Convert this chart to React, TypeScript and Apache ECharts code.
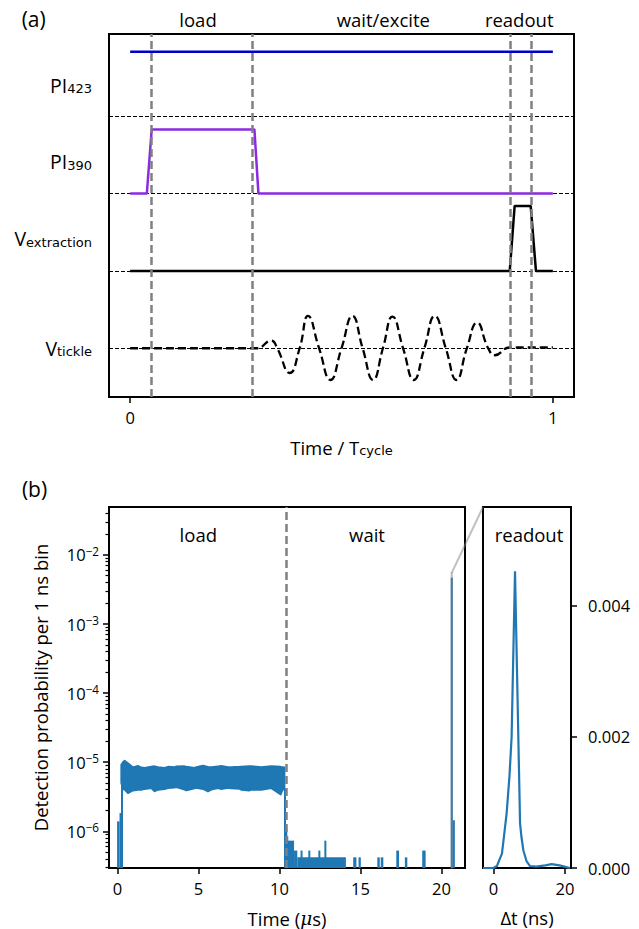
import React, { useEffect, useRef } from "react";
import * as echarts from "echarts";

const FONT = "'Open Sans', 'Noto Sans', sans-serif";
const SUBFONT = "'DejaVu Sans', sans-serif";
const BLUE = "#1f77b4";

// ---------- Panel (a): timing sequence ----------
const pi423T = [0, 1];
const pi423V = [3.833, 3.833];
const pi390T = [0, 0.0395, 0.051, 0.294, 0.3035, 1];
const pi390V = [2, 2, 2.829, 2.829, 2, 2];
const vextT = [0, 0.898, 0.9096, 0.9475, 0.96, 1];
const vextV = [1, 1, 1.84, 1.84, 1, 1];
const tickleT = [0, 0.2987, 0.334, 0.348, 0.3775, 0.401, 0.4208, 0.447, 0.4738, 0.5, 0.5259, 0.55, 0.5747, 0.598, 0.6206, 0.6457, 0.671, 0.696, 0.7207, 0.7467, 0.772, 0.7965, 0.8208, 0.847, 0.8627, 0.898, 1];
const tickleV = [0, 0, 0.1, 0, -0.32, 0, 0.418, 0, -0.41, 0, 0.418, 0, -0.41, 0, 0.41, 0, -0.41, 0, 0.418, 0, -0.41, 0, 0.33, 0, -0.09, 0.01, 0.01];
const separatorLevels = [0, 1, 2, 3];
const phaseMarks = [0.0455, 0.2947, 0.9046, 0.9534];
const traceLabelLevels = [0, 1.417, 2.41, 3.4];
const traceLabels = ["{m|V}{sub|tickle}", "{m|V}{sub|extraction}", "{m|PI}{sub|390}", "{m|PI}{sub|423}"];
const xTicksA = [0, 1];

// ---------- Panel (b): detection probability (log) ----------
const bandT = [0.237, 0.34, 0.443, 0.648, 0.957, 1.265, 1.471, 1.677, 2.088, 2.294, 2.5, 2.912, 3.117, 3.529, 3.632, 4.146, 4.249, 4.764, 4.866, 5.278, 5.586, 5.792, 6.204, 6.409, 6.821, 7.027, 7.541, 7.644, 8.159, 8.261, 8.878, 9.496, 10.072, 10.216, 10.31];
const bandUpper = [9.2e-6, 1.0e-5, 1.056e-5, 9.66e-6, 8.46e-6, 8.84e-6, 8.4e-6, 8.28e-6, 8.65e-6, 8.75e-6, 8.5e-6, 8.28e-6, 8.6e-6, 8.46e-6, 8.7e-6, 8.75e-6, 8.6e-6, 8.28e-6, 8.5e-6, 8.94e-6, 8.6e-6, 8.46e-6, 8.7e-6, 8.84e-6, 8.5e-6, 8.46e-6, 8.6e-6, 8.65e-6, 8.75e-6, 8.75e-6, 8.46e-6, 8.75e-6, 8.6e-6, 8.46e-6, 8.4e-6];
const bandLower = [5.0e-6, 4.12e-6, 4.0e-6, 3.57e-6, 3.9e-6, 4.0e-6, 3.98e-6, 4.1e-6, 4.21e-6, 3.8e-6, 3.98e-6, 4.1e-6, 4.21e-6, 4.3e-6, 4.35e-6, 4.0e-6, 3.9e-6, 4.2e-6, 4.26e-6, 4.1e-6, 3.77e-6, 4.0e-6, 4.21e-6, 4.1e-6, 4.26e-6, 4.2e-6, 4.12e-6, 4.0e-6, 3.9e-6, 4.0e-6, 3.98e-6, 4.21e-6, 3.41e-6, 4.12e-6, 4.0e-6];
// isolated bins / sparse counts: [start µs, end µs, level]
const binStart = [-0.02, 0.13, 0.22, 10.28, 10.36, 10.42, 10.52, 10.9, 11.1, 11.3, 11.78, 12.4, 12.77, 14.55, 14.88, 16.04, 16.25, 17.21, 17.74, 18.81, 20.57, 20.7];
const binEnd = [0.13, 0.24, 0.28, 10.38, 10.42, 10.52, 10.9, 11.1, 14.1, 11.38, 11.85, 12.47, 12.87, 14.75, 15.02, 16.19, 16.41, 17.38, 17.89, 19.02, 20.7, 20.8];
const binLevel = [1.35e-6, 1.78e-6, 5.0e-6, 4.0e-6, 1.08e-6, 8.2e-7, 7.1e-7, 5.1e-7, 4.07e-7, 5.1e-7, 5.1e-7, 5.1e-7, 7.1e-7, 4.07e-7, 4.07e-7, 4.07e-7, 4.07e-7, 5.1e-7, 4.07e-7, 5.1e-7, 4.5e-3, 1.4e-6];
const xTicksB = [0, 5, 10, 15, 20];
const yMajorB = [1e-6, 1e-5, 1e-4, 1e-3, 1e-2];
const minorMult = [2, 3, 4, 5, 6, 7, 8, 9];
const minorDecades = [1e-7, 1e-6, 1e-5, 1e-4, 1e-3, 1e-2];
const loadEnd = 10.4;
const readoutStart = 20.63;

// ---------- Inset: readout ----------
const insetT = [-2.9, 0.0, 1.0, 1.5, 2.4, 3.7, 4.5, 5.1, 6.05, 7.46, 7.83, 8.38, 9.3, 10.25, 12.0, 14.5, 16.3, 18.5, 21.4];
const insetV = [0, 0, 0.00003, 0.0001, 0.00022, 0.00083, 0.0014, 0.002, 0.00452, 0.00068, 0.00048, 0.00027, 0.0001, 0.00003, 0.00002, 0.00004, 0.00006, 0.00004, 0];
const insetXTicks = [0, 20];
const insetYTicks = [0, 0.002, 0.004];

const A_X = [-0.05, 1.05];
const A_Y = [-0.63, 4.063];
const B_X = [-0.52, 21.45];
const B_Y = [2.95e-7, 0.0493];
const C_X = [-2.9, 21.7];
const C_Y = [0, 0.0055];

const zip = (a: number[], b: number[]) => a.map((v, i) => [v, b[i]]);

export default function App() {
  const ref = useRef<HTMLDivElement>(null);
  useEffect(() => {
    if (!ref.current) return;
    const chart = echarts.init(ref.current, undefined, { renderer: "svg" });
    const tickStyle = { color: "#000", width: 1.5 };
    const labelBase = { color: "#000", fontFamily: FONT, fontSize: 16.5 };
    const noLine = { show: false, onZero: false };
    const mainTok = { fontSize: 19.5, fontFamily: FONT, color: "#000", lineHeight: 20 };
    const subTok = { fontSize: 13, fontFamily: SUBFONT, color: "#000", lineHeight: 8, verticalAlign: "bottom" };
    const minorVals: number[] = [];
    minorDecades.forEach((d) => minorMult.forEach((m) => {
      const v = m * d;
      if (v > B_Y[0] && v < B_Y[1]) minorVals.push(v);
    }));
    const option: any = {
      animation: false,
      textStyle: { fontFamily: FONT },
      grid: [
        { left: 109, top: 34, width: 465, height: 363, show: true, borderColor: "#000", borderWidth: 2 },
        { left: 109, top: 507, width: 356, height: 362, show: true, borderColor: "#000", borderWidth: 2 },
        { left: 483, top: 507, width: 88, height: 361, show: true, borderColor: "#000", borderWidth: 2 },
      ],
      xAxis: [
        {
          gridIndex: 0, type: "value", min: A_X[0], max: A_X[1], position: "bottom",
          axisLine: noLine, splitLine: { show: false },
          axisTick: { show: true, customValues: xTicksA, length: 6, lineStyle: tickStyle },
          axisLabel: { ...labelBase, customValues: xTicksA, margin: 12 },
          name: "{m|Time / T}{sub|cycle}", nameLocation: "middle", nameGap: 40,
          nameTextStyle: { ...mainTok, fontSize: 18.5, rich: { m: { ...mainTok, fontSize: 18.5 }, sub: subTok } },
        },
        {
          gridIndex: 1, type: "value", min: B_X[0], max: B_X[1], position: "bottom",
          axisLine: noLine, splitLine: { show: false },
          axisTick: { show: true, customValues: xTicksB, length: 6, lineStyle: tickStyle },
          axisLabel: { ...labelBase, customValues: xTicksB, margin: 12 },
          name: "{m|Time (}{i|μ}{m|s)}", nameLocation: "middle", nameGap: 40,
          nameTextStyle: {
            ...mainTok, fontSize: 18.5,
            rich: { m: { ...mainTok, fontSize: 18.5 }, i: { ...mainTok, fontSize: 18.5, fontStyle: "italic", fontFamily: "'DejaVu Serif', serif" } },
          },
        },
        {
          gridIndex: 2, type: "value", min: C_X[0], max: C_X[1], position: "bottom",
          axisLine: noLine, splitLine: { show: false },
          axisTick: { show: true, customValues: insetXTicks, length: 6, lineStyle: tickStyle },
          axisLabel: { ...labelBase, customValues: insetXTicks, margin: 12 },
          name: "Δt (ns)", nameLocation: "middle", nameGap: 40,
          nameTextStyle: { color: "#000", fontFamily: FONT, fontSize: 18.5 },
        },
      ],
      yAxis: [
        {
          gridIndex: 0, type: "value", min: A_Y[0], max: A_Y[1], position: "left",
          axisLine: noLine, splitLine: { show: false }, axisTick: { show: false },
          axisLabel: {
            customValues: traceLabelLevels, margin: 17, color: "#000", fontFamily: FONT, fontSize: 19.5, lineHeight: 20,
            formatter: (v: number) => {
              const i = traceLabelLevels.findIndex((l) => Math.abs(l - v) < 1e-6);
              return i >= 0 ? traceLabels[i] : "";
            },
            rich: { m: mainTok, sub: subTok },
          },
        },
        {
          gridIndex: 1, type: "log", logBase: 10, min: B_Y[0], max: B_Y[1], position: "left",
          axisLine: noLine, splitLine: { show: false }, minorTick: { show: false },
          axisTick: { show: true, customValues: yMajorB, length: 6, lineStyle: tickStyle },
          axisLabel: {
            customValues: yMajorB, margin: 10, color: "#000", fontFamily: FONT, fontSize: 16.5, lineHeight: 20,
            formatter: (v: number) => "{n|10}{sup|−" + (-Math.round(Math.log10(v))) + "}",
            rich: {
              n: { fontSize: 16.5, fontFamily: FONT, color: "#000", lineHeight: 20 },
              sup: { fontSize: 11.7, fontFamily: FONT, color: "#000", lineHeight: 14, verticalAlign: "top" },
            },
          },
          name: "Detection probability per 1 ns bin", nameLocation: "middle", nameRotate: 90, nameGap: 59,
          nameTextStyle: { color: "#000", fontFamily: FONT, fontSize: 18.5 },
        },
        {
          gridIndex: 1, type: "log", logBase: 10, min: B_Y[0], max: B_Y[1], position: "left",
          axisLine: noLine, splitLine: { show: false }, axisLabel: { show: false },
          axisTick: { show: true, customValues: minorVals, length: 3.5, lineStyle: { color: "#000", width: 1.2 } },
        },
        {
          gridIndex: 2, type: "value", min: C_Y[0], max: C_Y[1], position: "right",
          axisLine: noLine, splitLine: { show: false },
          axisTick: { show: true, customValues: insetYTicks, length: 6, lineStyle: tickStyle },
          axisLabel: { ...labelBase, customValues: insetYTicks, margin: 17, formatter: (v: number) => v.toFixed(3) },
        },
      ],
      series: [
        {
          type: "line", xAxisIndex: 0, yAxisIndex: 0, data: zip(pi423T, pi423V), symbol: "none",
          lineStyle: { color: "#0000cc", width: 2.5 }, z: 3,
          markLine: {
            silent: true, symbol: "none", label: { show: false }, z: 2,
            data: separatorLevels.map((l) => ({ yAxis: l, lineStyle: { color: "#000", width: 1, type: [4, 2] } })),
          },
        },
        {
          type: "line", xAxisIndex: 0, yAxisIndex: 0, data: zip(pi390T, pi390V), symbol: "none",
          lineStyle: { color: "#8a2be2", width: 2.5 }, z: 3,
        },
        {
          type: "line", xAxisIndex: 0, yAxisIndex: 0, data: zip(vextT, vextV), symbol: "none",
          lineStyle: { color: "#000", width: 2.5 }, z: 3,
        },
        {
          type: "line", xAxisIndex: 0, yAxisIndex: 0, data: zip(tickleT, tickleV), symbol: "none", smooth: 0.5,
          lineStyle: { color: "#000", width: 2.3, type: [8, 4] }, z: 3,
          markLine: {
            silent: true, symbol: "none", label: { show: false }, z: 5,
            data: phaseMarks.map((m) => ({ xAxis: m, lineStyle: { color: "#808080", width: 2.5, type: [8, 4] } })),
          },
        },
        {
          type: "custom", xAxisIndex: 1, yAxisIndex: 1, data: [[bandT[0], bandUpper[0]]],
          renderItem: (params: any, api: any) => {
            const up = bandT.map((t, i) => api.coord([t, bandUpper[i]]));
            const lo = bandT.map((t, i) => api.coord([t, bandLower[i]])).reverse();
            return {
              type: "polygon", shape: { points: up.concat(lo) },
              style: { fill: BLUE, stroke: BLUE, lineWidth: 1.8, lineJoin: "round" },
            };
          },
          z: 3,
        },
        {
          type: "custom", xAxisIndex: 1, yAxisIndex: 1,
          data: binStart.map((s, i) => [s, binEnd[i], binLevel[i]]),
          encode: { x: [0, 1], y: 2 },
          renderItem: (params: any, api: any) => {
            const t0 = api.value(0), t1 = api.value(1), lv = api.value(2);
            const a = api.coord([t0, lv]);
            const b = api.coord([t1, lv]);
            const cs = params.coordSys;
            const bottom = cs.y + cs.height;
            const w = Math.max(b[0] - a[0], 2);
            return {
              type: "rect", shape: { x: a[0], y: a[1] - 1, width: w, height: bottom - a[1] + 1 },
              style: { fill: BLUE },
            };
          },
          z: 3,
        },
        {
          type: "line", xAxisIndex: 1, yAxisIndex: 1, data: [], symbol: "none",
          markLine: {
            silent: true, symbol: "none", label: { show: false }, z: 6,
            data: [{ xAxis: loadEnd, lineStyle: { color: "#808080", width: 2.5, type: [8, 4] } }],
          },
        },
        {
          type: "line", xAxisIndex: 2, yAxisIndex: 3, data: zip(insetT, insetV), symbol: "none",
          lineStyle: { color: BLUE, width: 2.2 }, z: 3,
        },
      ],
    };
    chart.setOption(option);

    const p1 = chart.convertToPixel({ gridIndex: 1 } as any, [readoutStart, C_Y[1]]) as number[];
    const pb = chart.convertToPixel({ gridIndex: 1 } as any, [readoutStart, B_Y[0]]) as number[];
    const p2 = chart.convertToPixel({ gridIndex: 2 } as any, [C_X[0], C_Y[1]]) as number[];
    const txt = (text: string, x: number, y: number, size = 18.5) => ({
      type: "text", x, y, z: 10,
      style: { text, fill: "#000", fontFamily: FONT, fontSize: size, align: "center", verticalAlign: "middle" },
    });
    chart.setOption({
      graphic: [
        txt("(a)", 33.7, 18.5, 21),
        txt("load", 198, 19.5),
        txt("wait/excite", 383.3, 19.5),
        txt("readout", 519.2, 19.5),
        txt("(b)", 34.5, 489, 21),
        txt("load", 198.3, 534),
        txt("wait", 367, 534),
        txt("readout", 529, 534),
        {
          type: "line", z: 9, silent: true,
          shape: { x1: p1[0], y1: p1[1], x2: p2[0], y2: p2[1] },
          style: { stroke: "rgba(128,128,128,0.5)", lineWidth: 2 },
        },
        {
          type: "rect", z: 9, silent: true,
          shape: { x: p1[0] - 0.3, y: p1[1], width: 0.6, height: pb[1] - p1[1] },
          style: { fill: "none", stroke: "rgba(128,128,128,0.5)", lineWidth: 1.6 },
        },
      ],
    });
    return () => chart.dispose();
  }, []);
  return <div ref={ref} style={{ position: "fixed", left: 0, top: 0, width: 639, height: 929, background: "#fff" }} />;
}
